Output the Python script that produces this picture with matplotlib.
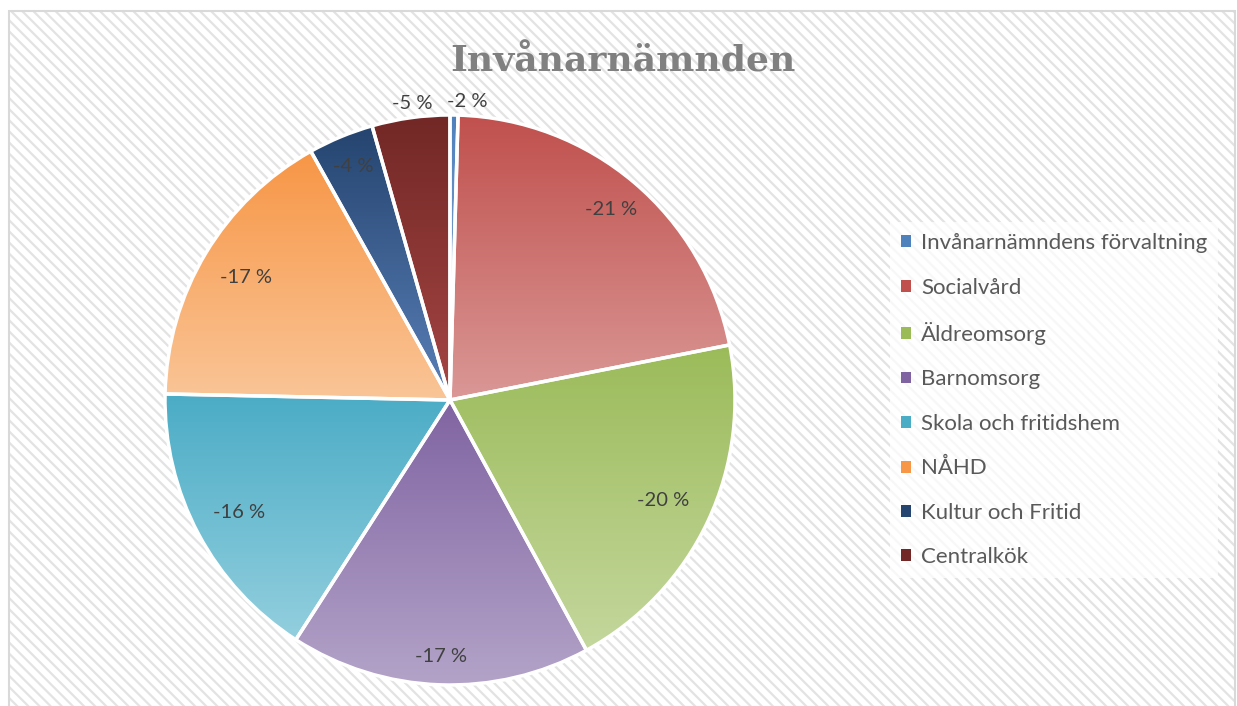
import numpy as np
import matplotlib.pyplot as plt
from matplotlib.patches import Rectangle, Patch
from matplotlib.colors import to_rgb

plt.rcParams['font.family'] = ['Lato', 'DejaVu Sans']
plt.rcParams['hatch.linewidth'] = 1.6

# data
title = 'Invånarnämnden'
categories = ['Invånarnämndens förvaltning', 'Socialvård', 'Äldreomsorg', 'Barnomsorg',
              'Skola och fritidshem', 'NÅHD', 'Kultur och Fritid', 'Centralkök']
shares = [0.45, 21.4, 20.1, 17.0, 16.2, 16.5, 3.7, 4.4]
value_labels = ['-2 %', '-21 %', '-20 %', '-17 %', '-16 %', '-17 %', '-4 %', '-5 %']

# styling
top_colors = ['#4f81bd', '#c0504d', '#9bbb59', '#8064a2', '#4bacc6', '#f79646', '#25446f', '#722826']
bottom_colors = ['#95b3d7', '#da9896', '#c4d79d', '#b3a3c8', '#93cfde', '#fac597', '#5a80b8', '#a54644']
label_dist = [1.05, 0.876, 0.827, 0.90, 0.839, 0.833, 0.888, 1.048]
label_turn = [-2.5, 0, 0, 0, 0, 0, 0, -0.6]  # degrees, nudges the outside labels

W, H = 1237, 706
fig = plt.figure(figsize=(W / 100, H / 100), dpi=100)

# hatched chart area + border
fig.patches.append(Rectangle((9 / W, 0), (1235 - 9) / W, (H - 11) / H, transform=fig.transFigure,
                             facecolor='white', edgecolor='#e3e3e3', linewidth=0,
                             hatch='\\\\\\', zorder=-2))
fig.patches.append(Rectangle((9 / W, -0.01), (1235 - 9) / W, (H - 11) / H + 0.01, transform=fig.transFigure,
                             facecolor='none', edgecolor='#d9d9d9', linewidth=1.5, zorder=-1))

ax = fig.add_axes([165 / W, (H - 685) / H, 570 / W, 570 / H])
ax.set_zorder(2)
wedges, _ = ax.pie(shares, startangle=90, counterclock=False, radius=1,
                   wedgeprops=dict(edgecolor='white', linewidth=2.5, facecolor='none', zorder=3,
                                   clip_on=False))

for i, w in enumerate(wedges):
    t1, t2 = np.deg2rad(w.theta1), np.deg2rad(w.theta2)
    th = np.linspace(t1, t2, 200)
    xs = np.concatenate([[0], np.cos(th)])
    ys = np.concatenate([[0], np.sin(th)])
    c0 = np.array(to_rgb(top_colors[i]))
    c1 = np.array(to_rgb(bottom_colors[i]))
    f = np.linspace(0, 1, 256)[:, None]
    grad = (c0 * (1 - f) + c1 * f)[:, None, :]
    im = ax.imshow(grad, extent=(xs.min(), xs.max(), ys.min(), ys.max()), origin='upper',
                   aspect='auto', zorder=2, interpolation='bilinear')
    im.set_clip_path(w)

    mid = np.deg2rad((w.theta1 + w.theta2) / 2 + label_turn[i])
    d = label_dist[i]
    ax.text(d * np.cos(mid), d * np.sin(mid), value_labels[i], ha='center', va='center',
            fontsize=14.5, color='#404040', zorder=5)

ax.set_xlim(-1.0, 1.0)
ax.set_ylim(-1.0, 1.0)
ax.set_aspect('equal')
ax.axis('off')

fig.text(623 / W, 1 - 72 / H, title, ha='center', va='baseline', fontsize=26,
         fontweight='bold', color='#808080', family='DejaVu Serif')

handles = [Patch(facecolor=top_colors[i], edgecolor='none') for i in range(len(categories))]
leg = fig.legend(handles, categories, loc='upper left', bbox_to_anchor=(890 / W, 1 - 222 / H),
                 frameon=True, fontsize=16, labelspacing=1.1, handlelength=0.45, handleheight=0.45,
                 handletextpad=0.45, borderpad=0.5, borderaxespad=0, labelcolor='#595959')
leg.get_frame().set_facecolor('white')
leg.get_frame().set_alpha(0.75)
leg.get_frame().set_edgecolor('none')
leg.get_frame().set_boxstyle('square', pad=0)

fig.savefig('out.png', dpi=100)
